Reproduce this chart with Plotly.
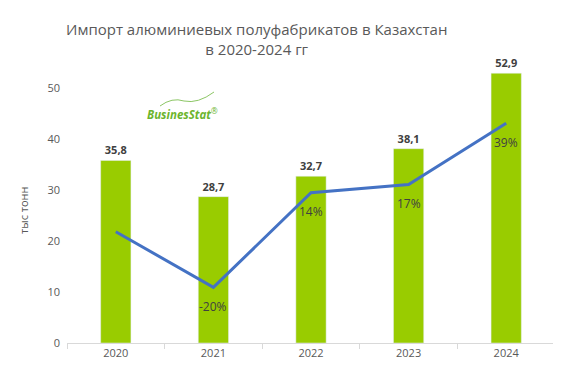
import plotly.graph_objects as go

years = ["2020", "2021", "2022", "2023", "2024"]
volume = [35.8, 28.7, 32.7, 38.1, 52.9]
growth = [0, -20, 14, 17, 39]
growth_labels = ["", "-20%", "14%", "17%", "39%"]
volume_labels = [f"{v:.1f}".replace(".", ",") for v in volume]
y_ticks = [0, 10, 20, 30, 40, 50]

# The page body has an 8px margin; size the figure so it fits the 561x382 window.
OFF = 8
W, H = 561 - OFF, 382 - OFF
ML, MR, MT, MB = 67 - OFF, 6, 37 - OFF, 39

fig = go.Figure()
fig.add_trace(go.Bar(
    x=years, y=volume, marker_color="#99cc00", width=0.31,
    text=volume_labels, textposition="outside", cliponaxis=False,
    textfont=dict(family="Open Sans, sans-serif", size=11, color="#404040", weight="bold"),
    hoverinfo="skip", showlegend=False,
))
fig.add_trace(go.Scatter(
    x=years, y=growth, yaxis="y2", mode="lines",
    line=dict(color="#4472c4", width=3),
    hoverinfo="skip", showlegend=False,
))

pw = W - ML - MR
ph = H - MT - MB
def px(x):
    return (x - OFF - ML) / pw
def py(y):
    return (H - MB - (y - OFF)) / ph

annotations = [
    dict(text="Импорт алюминиевых полуфабрикатов в Казахстан<br>в 2020-2024 гг",
         x=px(256), y=py(39), xref="paper", yref="paper", xanchor="center", yanchor="middle",
         showarrow=False, font=dict(size=15, color="#595959")),
    dict(text="тыс тонн", textangle=-90, xref="paper", yref="paper",
         x=px(23), y=py(210), xanchor="center", yanchor="middle",
         showarrow=False, font=dict(size=11, color="#595959")),
    dict(text="<b><i>BusinesStat</i></b><sup>®</sup>", xref="paper", yref="paper",
         x=px(182), y=py(113), xanchor="center", yanchor="middle",
         showarrow=False, font=dict(size=11.5, color="#6cb52d")),
]
for i, (g, lab) in enumerate(zip(growth, growth_labels)):
    if lab:
        annotations.append(dict(
            x=i, y=g, xref="x", yref="y2", text=lab, showarrow=False,
            yshift=-19, xanchor="center", yanchor="middle",
            font=dict(family="Open Sans, sans-serif", size=12, color="#404040"),
        ))

fig.update_layout(
    width=W, height=H,
    margin=dict(l=ML, r=MR, t=MT, b=MB),
    paper_bgcolor="white", plot_bgcolor="white",
    font=dict(family="Open Sans, sans-serif", color="#595959"),
    xaxis=dict(
        type="category", categoryorder="array", categoryarray=years,
        showline=True, linecolor="#d9d9d9", linewidth=1,
        ticks="outside", tickson="boundaries", ticklen=5, tickcolor="#d9d9d9",
        tickfont=dict(size=11, color="#595959"), showgrid=False,
    ),
    yaxis=dict(
        range=[0, 60], tickvals=y_ticks, showgrid=False, zeroline=False,
        tickfont=dict(size=11, color="#595959"), ticks="", ticklabelstandoff=6,
    ),
    yaxis2=dict(
        range=[-40, 70], overlaying="y", side="right", visible=False,
    ),
    annotations=annotations,
)

fig.add_shape(
    type="path", xref="paper", yref="paper",
    path=f"M {px(160)} {py(106)} Q {px(172)} {py(97)} {px(184)} {py(101)} Q {px(198)} {py(104)} {px(214)} {py(92)}",
    line=dict(color="#8cc665", width=1),
)

fig.write_html("out.html")
